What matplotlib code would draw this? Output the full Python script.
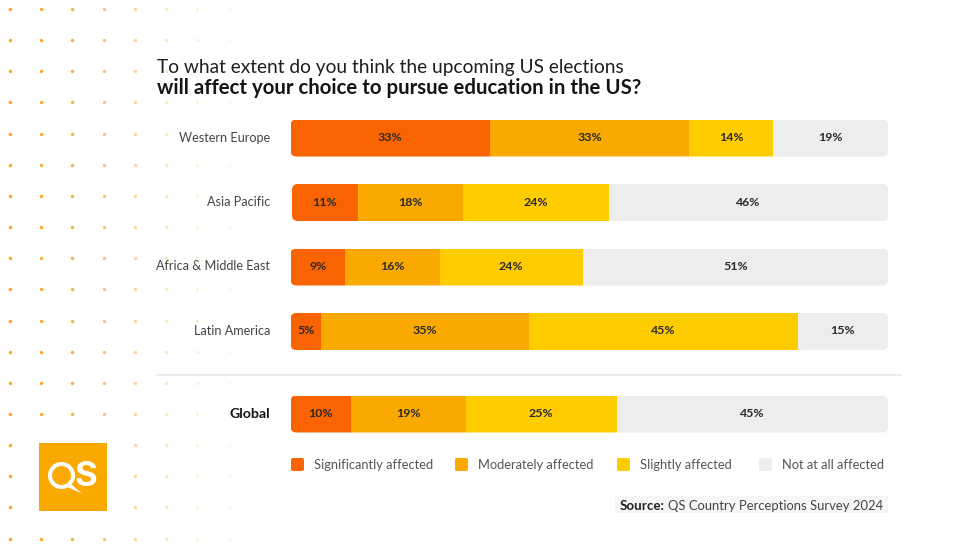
import matplotlib
matplotlib.use("Agg")
import matplotlib.pyplot as plt
from matplotlib.patches import Circle, FancyBboxPatch, Rectangle, Polygon

# Chart data
regions = ["Western Europe", "Asia Pacific", "Africa & Middle East", "Latin America", "Global"]
series_names = ["Significantly affected", "Moderately affected", "Slightly affected", "Not at all affected"]
significantly = [33.4, 11.0, 9.1, 5.1, 10.1]
moderately = [33.3, 17.7, 15.9, 34.8, 19.2]
slightly = [14.1, 24.3, 23.9, 45.0, 25.3]
not_at_all = [19.2, 46.75, 51.1, 15.1, 45.4]
bar_start = [0, 0.25, 0, 0, 0]
significantly_labels = ["33%", "11%", "9%", "5%", "10%"]
moderately_labels = ["33%", "18%", "16%", "35%", "19%"]
slightly_labels = ["14%", "24%", "24%", "45%", "25%"]
not_at_all_labels = ["19%", "46%", "51%", "15%", "45%"]

title_line1 = "To what extent do you think the upcoming US elections"
title_line2 = "will affect your choice to pursue education in the US?"

W, H = 975, 548
FONT = "Lato"
colors = ["#FA6400", "#FAA900", "#FFCC00", "#EDEDED"]
row_y = [138, 202.5, 267, 331.5, 414]
bar_h = 37
bar_left, bar_right = 290.5, 888

plt.rcParams["font.family"] = [FONT, "DejaVu Sans"]

fig = plt.figure(figsize=(W / 100, H / 100), dpi=100, facecolor="white")

# Overlay in pixel coordinates for decoration and text
bg = fig.add_axes([0, 0, 1, 1])
bg.set_xlim(0, W)
bg.set_ylim(H, 0)
bg.axis("off")

# Dot pattern, fading to the right
dot_x = [10, 41, 72, 104, 135, 166, 197, 229, 260]
dot_alpha = [1, 0.95, 0.85, 0.65, 0.45, 0.28, 0.16, 0.09, 0.05]
for i in range(18):
    y = 9 + 31.15 * i
    for x, a in zip(dot_x, dot_alpha):
        bg.scatter(x, y, s=6, color="#FFA51F", alpha=a, linewidths=0, zorder=1)

# Logo
bg.add_patch(Rectangle((38.5, 443), 68.5, 68, color="#FAA900", lw=0, zorder=2))
bg.add_patch(Circle((61.5, 475.5), 11.5, fc="none", ec="white", lw=2.9, zorder=3))
bg.text(86, 476.5, "S", color="white", fontsize=25, fontweight="bold", ha="center",
        va="center", family="Inter", zorder=3)
bg.add_patch(Polygon([[65, 486], [72, 485], [82, 493.5]], color="white", lw=0, zorder=3))

# Title
bg.text(157, 67, title_line1, fontsize=13.75, color="#1f1f1f", va="center", ha="left", zorder=3)
bg.text(157, 87.5, title_line2, fontsize=14.7, color="#151515", fontweight="bold", va="center", ha="left", zorder=3)

# Separator
bg.plot([157, 901], [374.5, 374.5], color="#EBEBEB", lw=1.4, zorder=1)

# Bars
ax = fig.add_axes([bar_left / W, 0, (bar_right - bar_left) / W, 1])
ax.set_xlim(0, 100)
ax.set_ylim(H, 0)
ax.axis("off")
ax.patch.set_alpha(0)

values = [significantly, moderately, slightly, not_at_all]
labels = [significantly_labels, moderately_labels, slightly_labels, not_at_all_labels]
px_per_unit = (bar_right - bar_left) / 100

left = list(bar_start)
for name, vals, labs, color in zip(series_names, values, labels, colors):
    bars = ax.barh(row_y, vals, left=left, height=bar_h, color=color, linewidth=0, label=name)
    for i, (b, lab) in enumerate(zip(bars, labs)):
        x0 = bar_left + bar_start[i] * px_per_unit + 5
        clip = FancyBboxPatch((x0, row_y[i] - bar_h / 2 + 5), bar_right - x0 - 5, bar_h - 10,
                              boxstyle="round,pad=5,rounding_size=6", fc="none", ec="none")
        bg.add_patch(clip)
        b.set_clip_path(clip)
        ax.text(left[i] + vals[i] / 2, row_y[i] - 0.5, lab, ha="center", va="center",
                fontsize=8.9, fontweight="bold", color="#2a2a2a")
    left = [l + v for l, v in zip(left, vals)]

# Region labels
for name, y in zip(regions, row_y):
    is_global = name == "Global"
    bg.text(270, y - 0.5, name, ha="right", va="center", fontsize=10.2 if is_global else 9.05,
            fontweight="bold" if is_global else "normal",
            color="#151515" if is_global else "#444444")

# Legend
legend_x = [291, 455, 617, 759]
for x, name, color in zip(legend_x, series_names, colors):
    bg.add_patch(FancyBboxPatch((x + 1.5, 459.5), 10, 10, boxstyle="round,pad=1.5,rounding_size=2",
                                fc=color, ec="none", zorder=3))
    bg.text(x + 23, 465, name, ha="left", va="center", fontsize=9.3, color="#555555", zorder=3)

# Source
bg.add_patch(Rectangle((615, 496), 273, 17, color="#F6F6F6", lw=0, zorder=2))
bg.text(620, 505.5, "Source:", ha="left", va="center", fontsize=9.6, fontweight="bold", color="#222222", zorder=3)
bg.text(668.5, 505.5, "QS Country Perceptions Survey 2024", ha="left", va="center", fontsize=9.35, color="#444444", zorder=3)

fig.savefig("out.png", dpi=100)
